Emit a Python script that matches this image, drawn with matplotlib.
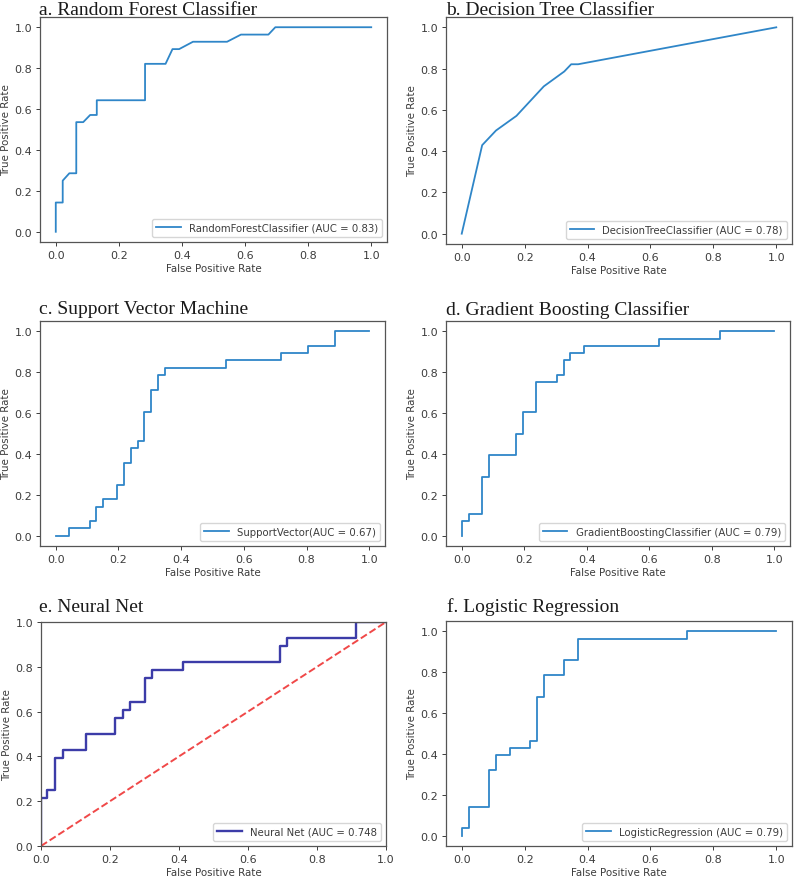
import matplotlib
matplotlib.use('Agg')
import matplotlib.pyplot as plt

# ---------- ROC points ----------
rf_fpr = [0, 0, 0.022, 0.022, 0.043, 0.065, 0.065, 0.087, 0.109, 0.130, 0.130, 0.283, 0.283,
          0.348, 0.370, 0.391, 0.435, 0.543, 0.587, 0.674, 0.696, 1.0]
rf_tpr = [0, 0.143, 0.143, 0.25, 0.286, 0.286, 0.536, 0.536, 0.571, 0.571, 0.643, 0.643, 0.821,
          0.821, 0.893, 0.893, 0.929, 0.929, 0.964, 0.964, 1.0, 1.0]

dt_fpr = [0, 0.065, 0.109, 0.174, 0.261, 0.326, 0.348, 0.370, 1.0]
dt_tpr = [0, 0.429, 0.5, 0.571, 0.714, 0.786, 0.821, 0.821, 1.0]

svm_fpr = [0, 0.043, 0.043, 0.109, 0.109, 0.130, 0.130, 0.152, 0.152, 0.196, 0.196, 0.217, 0.217,
           0.239, 0.239, 0.261, 0.261, 0.283, 0.283, 0.304, 0.304, 0.326, 0.326, 0.348, 0.348,
           0.543, 0.543, 0.717, 0.717, 0.804, 0.804, 0.891, 0.891, 1.0]
svm_tpr = [0, 0, 0.036, 0.036, 0.071, 0.071, 0.143, 0.143, 0.179, 0.179, 0.25, 0.25, 0.357,
           0.357, 0.429, 0.429, 0.464, 0.464, 0.607, 0.607, 0.714, 0.714, 0.786, 0.786, 0.821,
           0.821, 0.857, 0.857, 0.893, 0.893, 0.929, 0.929, 1.0, 1.0]

gb_fpr = [0, 0, 0.022, 0.022, 0.065, 0.065, 0.087, 0.087, 0.174, 0.174, 0.196, 0.196, 0.239,
          0.239, 0.304, 0.304, 0.326, 0.326, 0.348, 0.348, 0.391, 0.391, 0.630, 0.630, 0.826,
          0.826, 1.0]
gb_tpr = [0, 0.071, 0.071, 0.107, 0.107, 0.286, 0.286, 0.393, 0.393, 0.5, 0.5, 0.607, 0.607,
          0.75, 0.75, 0.786, 0.786, 0.857, 0.857, 0.893, 0.893, 0.929, 0.929, 0.964, 0.964,
          1.0, 1.0]

nn_fpr = [0, 0, 0.017, 0.017, 0.042, 0.042, 0.063, 0.063, 0.131, 0.131, 0.215, 0.215, 0.237,
          0.237, 0.259, 0.259, 0.302, 0.302, 0.323, 0.323, 0.411, 0.411, 0.693, 0.693, 0.712,
          0.712, 0.913, 0.913, 1.0]
nn_tpr = [0, 0.214, 0.214, 0.25, 0.25, 0.393, 0.393, 0.429, 0.429, 0.5, 0.5, 0.571, 0.571,
          0.607, 0.607, 0.643, 0.643, 0.75, 0.75, 0.786, 0.786, 0.821, 0.821, 0.893, 0.893,
          0.929, 0.929, 1.0, 1.0]

lr_fpr = [0, 0, 0.022, 0.022, 0.087, 0.087, 0.109, 0.109, 0.152, 0.152, 0.217, 0.217, 0.239,
          0.239, 0.261, 0.261, 0.326, 0.326, 0.370, 0.370, 0.717, 0.717, 1.0]
lr_tpr = [0, 0.036, 0.036, 0.143, 0.143, 0.321, 0.321, 0.393, 0.393, 0.429, 0.429, 0.464, 0.464,
          0.679, 0.679, 0.786, 0.786, 0.857, 0.857, 0.964, 0.964, 1.0, 1.0]

titles = ['a. Random Forest Classifier', 'b. Decision Tree Classifier', 'c. Support Vector Machine',
          'd. Gradient Boosting Classifier', 'e. Neural Net', 'f. Logistic Regression']
labels = ['RandomForestClassifier (AUC = 0.83)', 'DecisionTreeClassifier (AUC = 0.78)',
          'SupportVector(AUC = 0.67)', 'GradientBoostingClassifier (AUC = 0.79)',
          'Neural Net (AUC = 0.748', 'LogisticRegression (AUC = 0.79)']
curves = [(rf_fpr, rf_tpr), (dt_fpr, dt_tpr), (svm_fpr, svm_tpr),
          (gb_fpr, gb_tpr), (nn_fpr, nn_tpr), (lr_fpr, lr_tpr)]

# pixel boxes of each panel: left, right, top, bottom  + title anchor (x, baseline)
boxes = [(40, 387, 18, 243), (446, 792, 18, 245),
         (40, 385, 322, 547), (446, 790, 322, 547),
         (41, 386, 623, 847), (446, 792, 622, 847)]
title_pos = [(39, 15), (446, 15), (39, 314), (446, 315), (39, 612), (447, 612)]

W, H = 794, 879
txt = '#3c3c3c'
plt.rcParams['font.size'] = 7
plt.rcParams['text.color'] = txt
plt.rcParams['axes.labelcolor'] = txt
plt.rcParams['xtick.color'] = txt
plt.rcParams['ytick.color'] = txt
plt.rcParams['axes.edgecolor'] = '#555555'

fig = plt.figure(figsize=(W / 100, H / 100), dpi=100)

for i in range(6):
    l, r, t, b = boxes[i]
    ax = fig.add_axes([l / W, 1 - b / H, (r - l) / W, (b - t) / H])
    x, y = curves[i]
    if i == 4:
        ax.plot(x, y, color='#3c3ca8', lw=1.7, label=labels[i])
        ax.plot([0, 1], [0, 1], color='#f04848', ls='--', lw=1.4)
        ax.set_xlim(0, 1)
        ax.set_ylim(0, 1)
    else:
        ax.plot(x, y, color='#2f86c8', lw=1.3, label=labels[i])
    ax.set_xlabel('False Positive Rate', fontsize=7.4, labelpad=2.5)
    ax.set_ylabel('True Positive Rate', fontsize=7.4, labelpad=2.5)
    ax.tick_params(labelsize=8, length=3, width=0.7, pad=2.5)
    for s in ax.spines.values():
        s.set_linewidth(0.9)
    ax.legend(loc='lower right', fontsize=7.3, handlelength=2.4)
    tx, ty = title_pos[i]
    fig.text(tx / W, 1 - ty / H, titles[i], fontsize=14, family='Liberation Serif',
             color='#1a1a1a', ha='left', va='baseline')

fig.savefig('out.png', dpi=100, facecolor='white')
